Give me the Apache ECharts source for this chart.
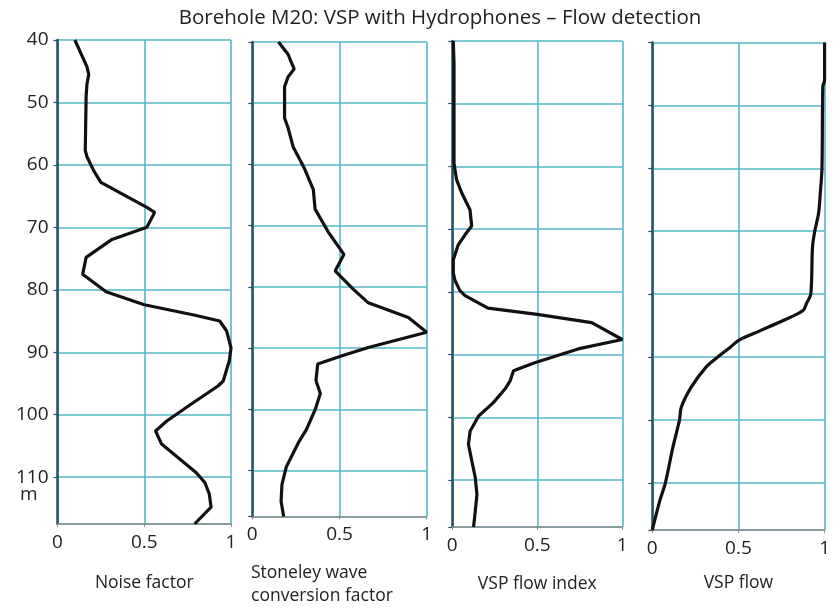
<!DOCTYPE html>
<html>
<head>
<meta charset="utf-8">
<script src="https://cdn.jsdelivr.net/npm/echarts@6/dist/echarts.min.js"></script>
<style>
  html, body { margin: 0; padding: 0; background: #fff; }
  #chart { width: 833px; height: 610px; }
</style>
</head>
<body>
<div id="chart"></div>
<script>
// Depth axis (m) and value axis ticks
const depthTicks = [40, 50, 60, 70, 80, 90, 100, 110];
const depthMin = 40;
const depthMax = 117.5;
const valueTicks = [0, 0.5, 1];

const panelNames = ['Noise factor', 'Stoneley wave\nconversion factor', 'VSP flow index', 'VSP flow'];

// Noise factor log
const noiseDepth = [40, 44.3, 45.5, 47, 49, 57.7, 58.7, 61, 62.8, 66.8, 67.6, 70, 72, 74.8, 77.5, 80.3, 82.4, 84, 85, 86.6, 89.3, 91.4, 94.6, 95.4, 98.4, 101, 102.6, 104.7, 109.3, 110.9, 112.7, 114.8, 117.5];
const noiseValue = [0.10, 0.17, 0.18, 0.17, 0.165, 0.16, 0.17, 0.21, 0.25, 0.515, 0.56, 0.515, 0.31, 0.165, 0.145, 0.28, 0.50, 0.78, 0.935, 0.975, 1.0, 0.99, 0.955, 0.925, 0.765, 0.63, 0.565, 0.60, 0.80, 0.85, 0.875, 0.885, 0.79];

// Stoneley wave conversion factor
const stoneleyDepth = [40, 42, 43.4, 44.4, 45.7, 47.3, 52.4, 54, 57.2, 60.4, 64.1, 67.3, 71, 74.7, 77.4, 80.4, 82.6, 85, 87.4, 89.9, 91.3, 92.6, 95.3, 97.4, 100.1, 103.3, 105.4, 109.4, 112.3, 115, 117.5];
const stoneleyValue = [0.15, 0.205, 0.225, 0.24, 0.205, 0.185, 0.185, 0.205, 0.235, 0.295, 0.35, 0.36, 0.435, 0.525, 0.475, 0.58, 0.665, 0.895, 1.0, 0.665, 0.51, 0.375, 0.365, 0.39, 0.36, 0.31, 0.265, 0.195, 0.17, 0.165, 0.18];

// VSP flow index
const flowIndexDepth = [40, 43.6, 59.5, 62.1, 64.2, 66.9, 69.5, 70.9, 72.5, 74.9, 77, 78.2, 79.8, 80.6, 82.6, 83.6, 84.9, 87.6, 89.1, 91.3, 92.6, 94.2, 95.5, 97.7, 99.8, 102.2, 104.3, 107, 109.6, 112.3, 115, 117.5];
const flowIndexValue = [0.006, 0.01, 0.01, 0.025, 0.055, 0.104, 0.114, 0.075, 0.035, 0.006, 0.006, 0.016, 0.045, 0.075, 0.21, 0.5, 0.82, 1.0, 0.74, 0.485, 0.36, 0.34, 0.31, 0.24, 0.155, 0.105, 0.095, 0.115, 0.135, 0.145, 0.135, 0.125];

// VSP flow (cumulative)
const flowDepth = [40, 46, 47, 60, 64, 67.2, 70, 72.5, 80, 81.5, 82.6, 84.2, 85.8, 87.3, 88.4, 90, 91.6, 94.8, 98, 100, 104.3, 110, 112.8, 117.5];
const flowValue = [1.0, 1.0, 0.99, 0.985, 0.975, 0.965, 0.943, 0.93, 0.92, 0.895, 0.875, 0.76, 0.627, 0.503, 0.455, 0.38, 0.312, 0.226, 0.168, 0.158, 0.12, 0.076, 0.044, 0.0];

const FONT = '"Open Sans", "Noto Sans", sans-serif';
const TEAL = '#55b6c8';
const AXIS_DARK = '#254f66';
const NAME_SIZE = 17.5;
const TICK_SIZE = 19;

const panels = [
  { left: 57.5, top: 40, width: 173.5, height: 484, depth: noiseDepth, value: noiseValue, smooth: false, nameGap: 50, nameAlign: 'center' },
  { left: 252.3, top: 42, width: 174.4, height: 485, depth: stoneleyDepth, value: stoneleyValue, smooth: false, nameGap: 45, nameAlign: 'left' },
  { left: 452.3, top: 41, width: 170, height: 486, depth: flowIndexDepth, value: flowIndexValue, smooth: false, nameGap: 48, nameAlign: 'center' },
  { left: 652.3, top: 42.5, width: 174.4, height: 487.5, depth: flowDepth, value: flowValue, smooth: 0.3, nameGap: 44, nameAlign: 'center' }
];

const grid = [], xAxis = [], yAxis = [], series = [];
panels.forEach((p, i) => {
  grid.push({ left: p.left, top: p.top, width: p.width, height: p.height, containLabel: false });

  const isStoneley = p.nameAlign === 'left';
  const lines = panelNames[i].split('\n');
  xAxis.push({
    type: 'value', gridIndex: i, min: valueTicks[0], max: valueTicks[valueTicks.length - 1], interval: 0.5,
    position: 'bottom',
    name: isStoneley ? lines.map(l => '{l|' + l + '}').join('\n') : panelNames[i],
    nameLocation: 'middle', nameGap: p.nameGap,
    nameTextStyle: isStoneley
      ? { fontFamily: FONT, fontSize: NAME_SIZE, color: '#222', padding: [0, 27, 0, 0],
          rich: { l: { fontFamily: FONT, fontSize: NAME_SIZE, color: '#222', width: 150, align: 'left', lineHeight: 23 } } }
      : { fontFamily: FONT, fontSize: NAME_SIZE, color: '#222' },
    axisLine: { show: true, lineStyle: { color: '#8c8c8c', width: 1.5 } },
    axisTick: { show: true, length: 3, lineStyle: { color: '#8c8c8c' } },
    axisLabel: { fontFamily: FONT, fontSize: TICK_SIZE, color: '#222', margin: 9,
      formatter: v => (valueTicks.indexOf(v) >= 0 ? String(v) : '') },
    splitLine: { show: true, lineStyle: { color: TEAL, width: 1.6 } }
  });

  yAxis.push({
    type: 'value', gridIndex: i, inverse: true, min: depthMin, max: depthMax, interval: 10,
    axisLine: { show: true, onZero: false, lineStyle: { color: AXIS_DARK, width: 2.5 } },
    axisTick: { show: true, length: 4, lineStyle: { color: AXIS_DARK, width: 1.2 } },
    axisLabel: { show: i === 0, showMaxLabel: false, fontFamily: FONT, fontSize: TICK_SIZE, color: '#222', margin: 9,
      formatter: v => (depthTicks.indexOf(v) >= 0 ? String(v) : '') },
    splitLine: { show: true, lineStyle: { color: TEAL, width: 1.6 } }
  });

  series.push({
    type: 'line', xAxisIndex: i, yAxisIndex: i,
    data: p.depth.map((d, k) => [p.value[k], d]),
    showSymbol: false, smooth: p.smooth,
    lineStyle: { color: '#111', width: 3.2 },
    z: 5
  });
});

const chart = echarts.init(document.getElementById('chart'), null, { renderer: 'canvas' });
chart.setOption({
  backgroundColor: '#fff',
  animation: false,
  title: {
    text: 'Borehole M20: VSP with Hydrophones \u2013 Flow detection',
    left: 435, top: 3, textAlign: 'center',
    textStyle: { fontFamily: FONT, fontSize: 20.5, fontWeight: 'normal', color: '#222' }
  },
  grid, xAxis, yAxis, series,
  graphic: [{
    type: 'text', left: 20, top: 485,
    style: { text: 'm', fontFamily: FONT, fontSize: TICK_SIZE, fill: '#222' }
  }]
});
</script>
</body>
</html>
